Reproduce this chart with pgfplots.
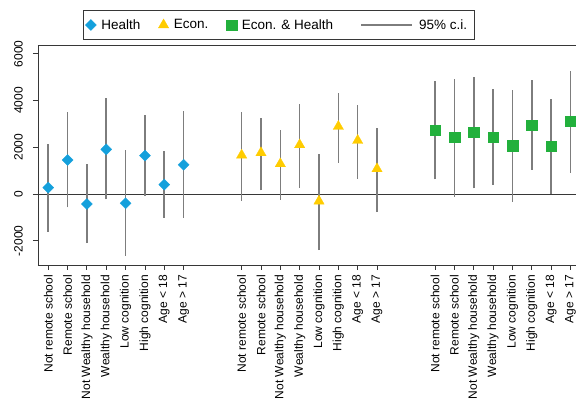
\documentclass[border=0pt]{standalone}
\usepackage{pgfplots}
\pgfplotsset{compat=1.18}
\usepackage{pgfplotstable}
\usepackage{fontspec}
\setmainfont{Liberation Sans}

\definecolor{hblue}{RGB}{20,160,220}
\definecolor{eyellow}{RGB}{255,204,0}
\definecolor{ehgreen}{RGB}{34,176,60}
\definecolor{cigray}{RGB}{125,125,125}
\definecolor{axgray}{RGB}{55,55,55}

% point estimate (y) and 95% confidence bounds (lo, hi) per subgroup
\pgfplotstableread{
x  y     lo     hi
0  270   -1614  2128
1  1456  -571   3498
2  -428  -2099  1272
3  1913  -228   4097
4  -400  -2642  1870
5  1642  -86    3384
6  400   -1014  1842
7  1256  -1014  3555
}\health
\pgfplotstableread{
x   y     lo     hi
10  1663  -285   3498
11  1764  157    3255
12  1292  -243   2726
13  2105  271    3840
14  -307  -2399  1699
15  2891  1342   4326
16  2291  657    3812
17  1078  -771   2841
}\econ
\pgfplotstableread{
x   y     lo     hi
20  2726  628    4855
21  2427  -114   4926
22  2641  242    5011
23  2427  400    4484
24  2070  -328   4454
25  2941  1042   4869
26  2041  0      4055
27  3113  914    5283
}\econhealth

\pgfplotsset{
  ci/.style={forget plot, draw=none, mark=none,
    error bars/.cd, y dir=plus, y explicit, error mark=none,
    error bar style={draw=cigray, line width=1.6pt, solid}},
  markonly/.style={only marks,
    legend image code/.code={\draw[##1] plot coordinates {(0pt,0pt)};}},
}

\begin{document}
\begin{tikzpicture}
\path[use as bounding box, clip] (0,0) rectangle (576pt,401pt);
\begin{axis}[
  at={(38pt,136pt)}, anchor=south west,
  scale only axis, width=539.2pt, height=220pt,
  xmin=-0.53, xmax=27.35, ymin=-3040, ymax=6380,
  axis y line*=left, axis x line*=box,
  axis line style={draw=axgray, line width=0.9pt},
  tick align=outside, major tick length=5pt,
  tick style={draw=axgray, line width=0.9pt},
  xtick pos=bottom, ytick pos=left,
  xtick={0,1,2,3,4,5,6,7,10,11,12,13,14,15,16,17,20,21,22,23,24,25,26,27},
  xticklabels={Not remote school,Remote school,Not Wealthy household,Wealthy household,Low cognition,High cognition,Age < 18,Age > 17,
               Not remote school,Remote school,Not Wealthy household,Wealthy household,Low cognition,High cognition,Age < 18,Age > 17,
               Not remote school,Remote school,Not Wealthy household,Wealthy household,Low cognition,High cognition,Age < 18,Age > 17},
  ytick={-2000,0,2000,4000,6000},
  scaled y ticks=false,
  /pgf/number format/.cd, 1000 sep={}, assume math mode=true, /pgfplots/.cd,
  xticklabel style={rotate=90, anchor=east, inner sep=0pt, font=\fontsize{12}{14}\selectfont},
  yticklabel style={rotate=90, anchor=south, inner sep=0pt, font=\fontsize{12}{14}\selectfont},
  xticklabel shift=5pt, yticklabel shift=10pt,
  extra y ticks={0}, extra y tick labels={},
  extra y tick style={grid=major, major grid style={draw=axgray, line width=0.9pt}, tick style={draw=none}},
  legend columns=4,
  legend style={at={(0.0835,1.1590)}, anchor=north west,
    draw=axgray, line width=0.6pt,
    font=\fontsize{13.5}{16}\selectfont,
    inner xsep=2pt, inner ysep=7pt,
    nodes={inner xsep=5pt},
    /tikz/every even column/.append style={column sep=13pt}},
  legend cell align=left,
]
% confidence intervals
\addplot[ci] table[x=x, y=lo, y error expr=\thisrow{hi}-\thisrow{lo}] {\health};
\addplot[ci] table[x=x, y=lo, y error expr=\thisrow{hi}-\thisrow{lo}] {\econ};
\addplot[ci] table[x=x, y=lo, y error expr=\thisrow{hi}-\thisrow{lo}] {\econhealth};
% point estimates
\addplot[markonly, mark=square*, mark size=3.9pt, color=hblue,
  mark options={rotate=45, draw=hblue, fill=hblue, line width=0.3pt}]
  table[x=x, y=y] {\health};
\addlegendentry{Health}
\addplot[markonly, mark=triangle*, mark size=6pt, color=eyellow,
  mark options={draw=eyellow, fill=eyellow, line width=0.3pt}]
  table[x=x, y=y] {\econ};
\addlegendentry{Econ.}
\addplot[markonly, mark=square*, mark size=5.3pt, color=ehgreen,
  mark options={draw=ehgreen, fill=ehgreen, line width=0.3pt}]
  table[x=x, y=y] {\econhealth};
\addlegendentry{Econ. \& Health}
\addlegendimage{legend image code/.code={
  \path[draw=none] (-10pt,0pt) -- (53pt,0pt);
  \draw[cigray, line width=1.2pt] (0pt,0pt) -- (51pt,0pt);}}
\addlegendentry{95\% c.i.}
\end{axis}
\end{tikzpicture}
\end{document}
